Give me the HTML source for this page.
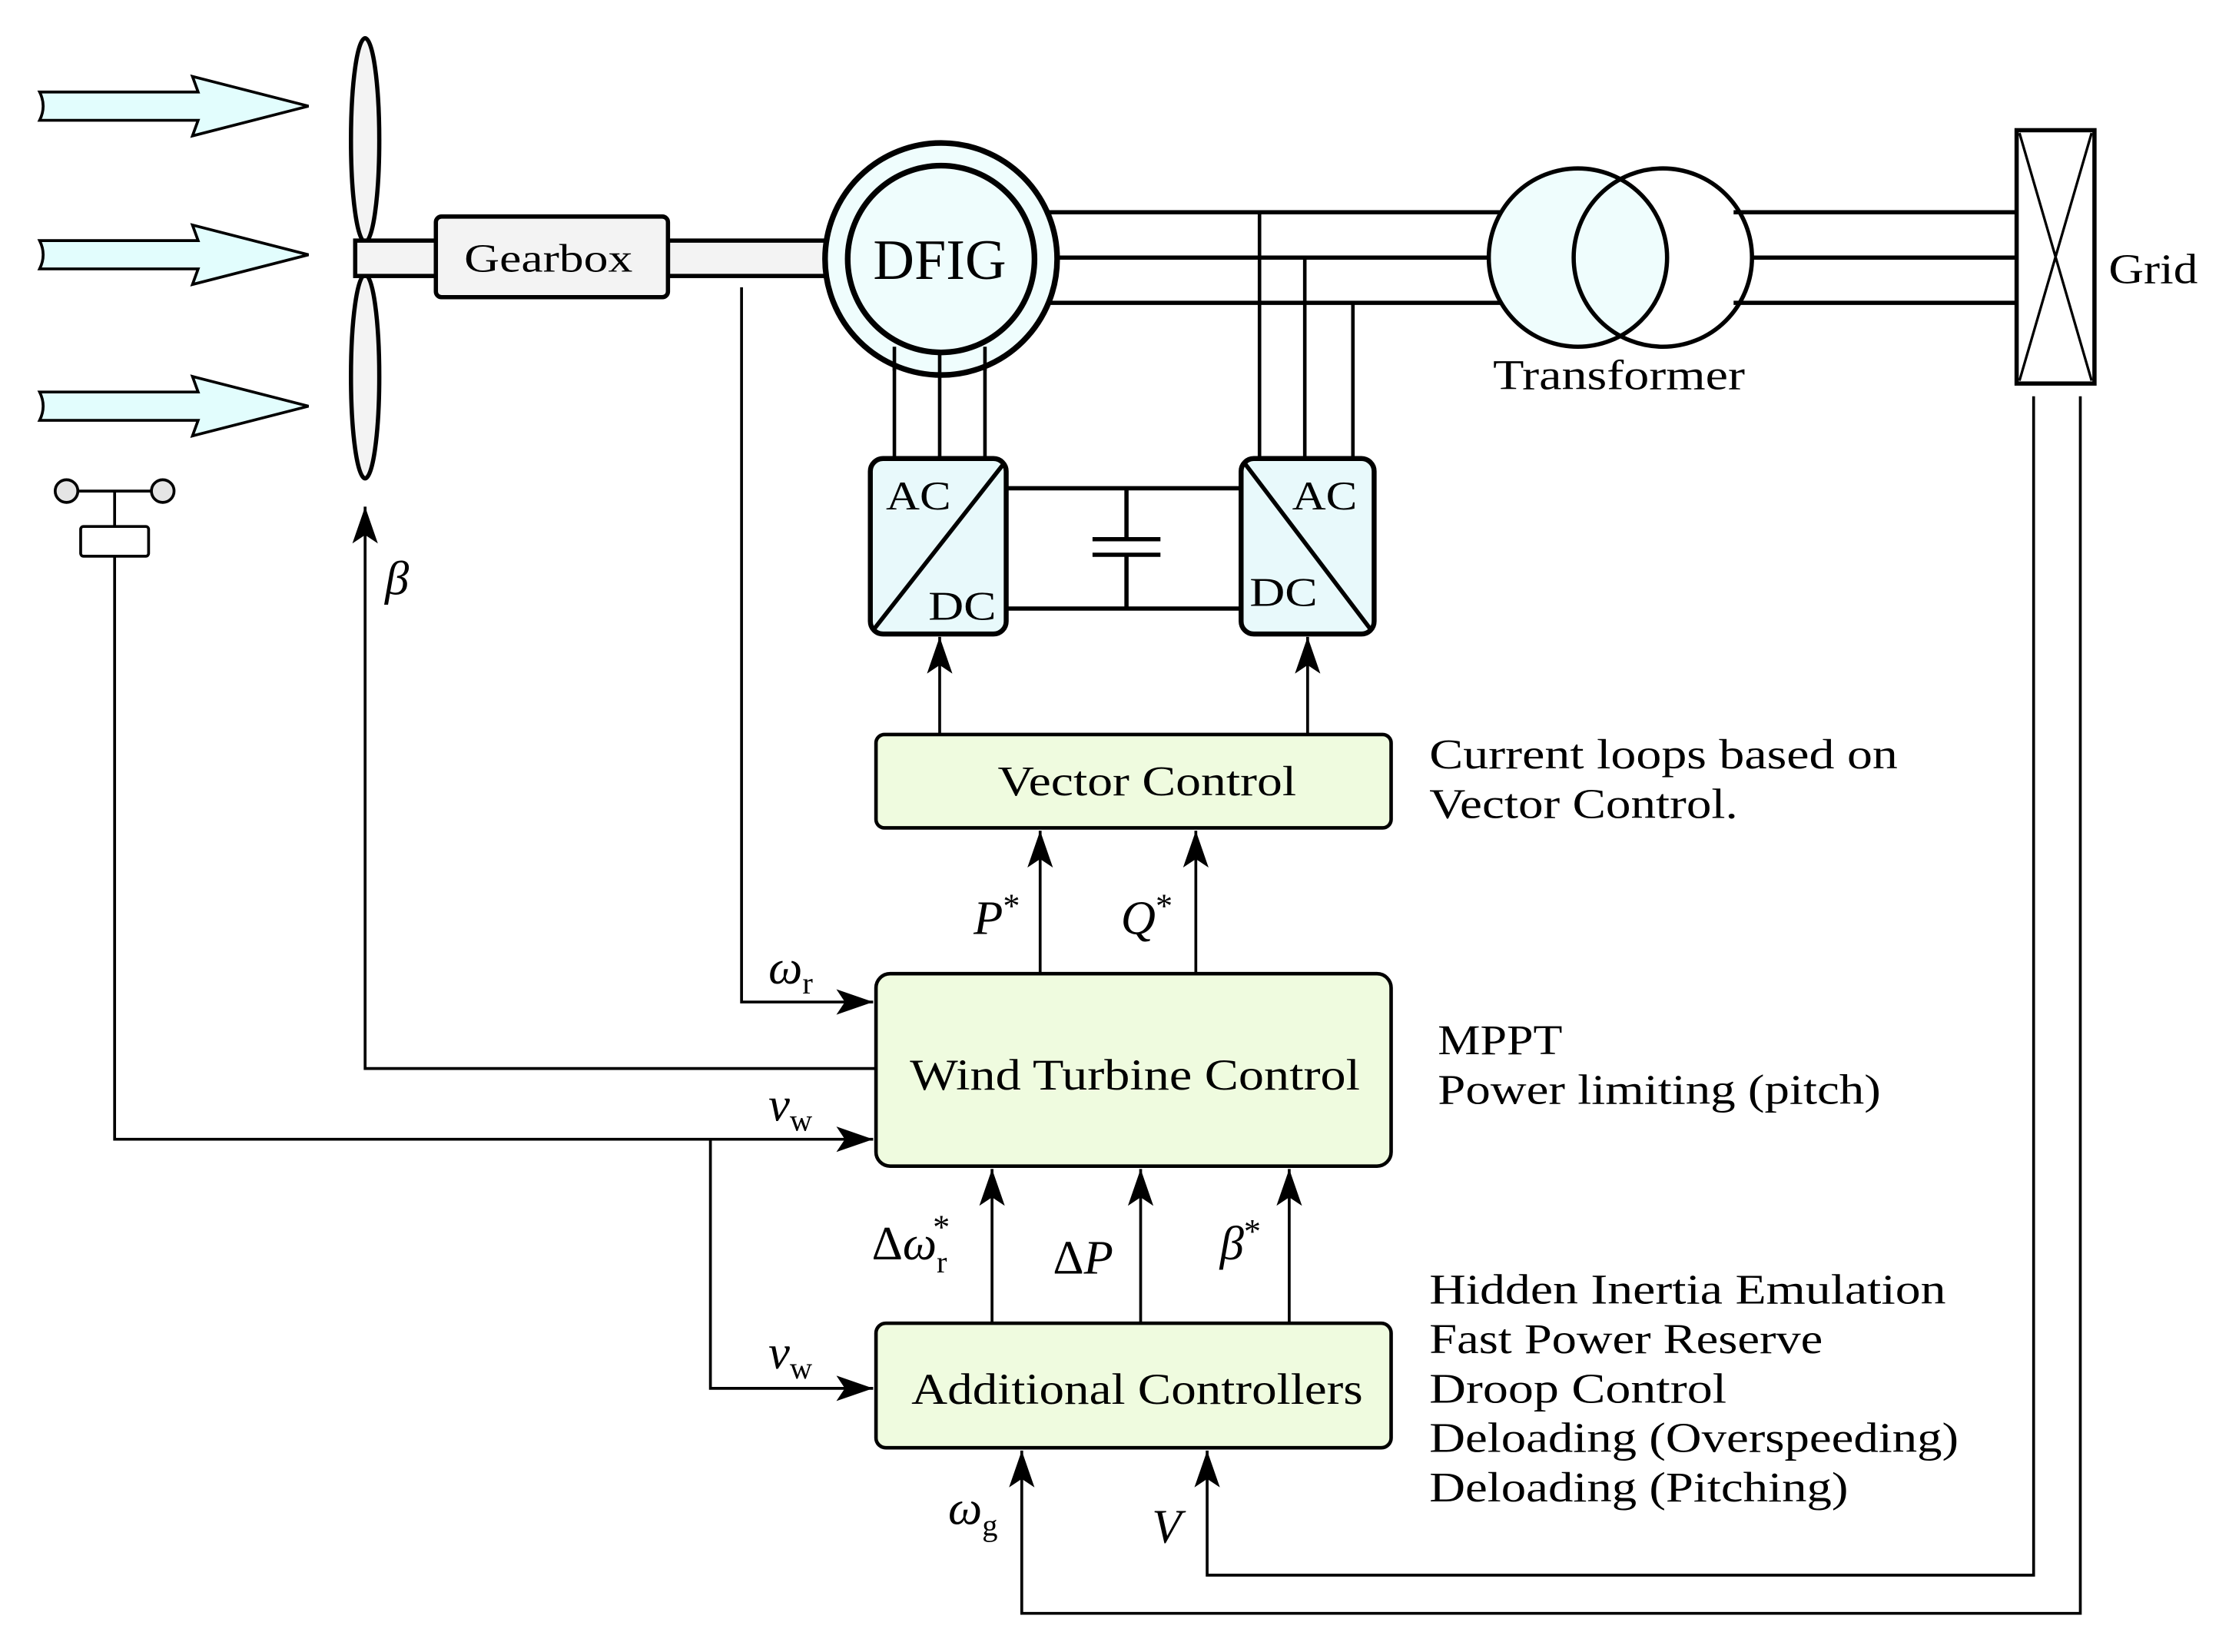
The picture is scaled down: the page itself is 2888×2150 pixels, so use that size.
<!DOCTYPE html>
<html><head><meta charset="utf-8"><style>
html,body{margin:0;padding:0;background:#fff;}
svg{display:block;}
text{font-family:"Liberation Serif",serif;fill:#000;}
</style></head><body>
<svg width="2888" height="2150" viewBox="0 0 1568 1167.3" xmlns="http://www.w3.org/2000/svg">
<defs>
<marker id="ah" viewBox="0 0 26 18" refX="26" refY="9" markerWidth="26" markerHeight="18" markerUnits="userSpaceOnUse" orient="auto">
<path d="M0 0 L26 9 L0 18 L6 9 Z" fill="#000"/>
</marker>
</defs>
<g stroke="#000" stroke-width="2" fill="#e2fdfd">
<path d="M28 65 L140 65 L136 54 L218 75 L136 96 L140 85 L28 85 Q33 75 28 65 Z"/>
<path d="M28 170 L140 170 L136 159 L218 180 L136 201 L140 190 L28 190 Q33 180 28 170 Z"/>
<path d="M28 277 L140 277 L136 266 L218 287 L136 308 L140 297 L28 297 Q33 287 28 277 Z"/>
</g>
<g stroke="#000" stroke-width="3" fill="#f3f3f3">
<ellipse cx="258" cy="99" rx="10" ry="72"/>
<ellipse cx="258" cy="266" rx="10" ry="72"/>
<rect x="251" y="170" width="57" height="25"/>
<rect x="472" y="170" width="130" height="25"/>
<rect x="308" y="153" width="164" height="57" rx="4"/>
</g>
<text x="328" y="192" font-size="28" textLength="119" lengthAdjust="spacingAndGlyphs">Gearbox</text>
<g stroke="#000" stroke-width="3" fill="none">
<line x1="740" y1="150" x2="1060" y2="150"/>
<line x1="748" y1="182" x2="1052" y2="182"/>
<line x1="740" y1="214" x2="1060" y2="214"/>
<line x1="1225" y1="150" x2="1425" y2="150"/>
<line x1="1237" y1="182" x2="1425" y2="182"/>
<line x1="1225" y1="214" x2="1425" y2="214"/>
</g>
<g stroke="#000" stroke-width="2.5" fill="none">
<line x1="890" y1="150" x2="890" y2="324"/>
<line x1="922" y1="182" x2="922" y2="324"/>
<line x1="956" y1="214" x2="956" y2="324"/>
<line x1="632" y1="240" x2="632" y2="324"/>
<line x1="664" y1="250" x2="664" y2="324"/>
<line x1="696" y1="240" x2="696" y2="324"/>
</g>
<circle cx="665" cy="183" r="82" fill="#effdfd" stroke="#000" stroke-width="4"/>
<circle cx="665" cy="183" r="66" fill="#effdfd" stroke="#000" stroke-width="4"/>
<line x1="632" y1="245" x2="632" y2="262" stroke="#000" stroke-width="2.5"/>
<line x1="664" y1="249" x2="664" y2="265" stroke="#000" stroke-width="2.5"/>
<line x1="696" y1="245" x2="696" y2="262" stroke="#000" stroke-width="2.5"/>
<text x="617" y="197" font-size="40" textLength="94" lengthAdjust="spacingAndGlyphs">DFIG</text>
<circle cx="1115" cy="182" r="63" fill="#effdfd" stroke="#000" stroke-width="3"/>
<circle cx="1175" cy="182" r="63" fill="none" stroke="#000" stroke-width="3"/>
<text x="1055" y="275" font-size="30" textLength="178" lengthAdjust="spacingAndGlyphs">Transformer</text>
<rect x="1425" y="92" width="55" height="179" fill="#fff" stroke="#000" stroke-width="3"/>
<path d="M1427 94 L1478 269 M1478 94 L1427 269" stroke="#000" stroke-width="1.8"/>
<text x="1490" y="200" font-size="30" textLength="63" lengthAdjust="spacingAndGlyphs">Grid</text>
<g stroke="#000" stroke-width="3" fill="none">
<line x1="711" y1="345" x2="877" y2="345"/>
<line x1="711" y1="430" x2="877" y2="430"/>
<line x1="796" y1="345" x2="796" y2="381"/>
<line x1="796" y1="392" x2="796" y2="430"/>
<line x1="772" y1="381" x2="820" y2="381"/>
<line x1="772" y1="392" x2="820" y2="392"/>
</g>
<rect x="615" y="324" width="96" height="124" rx="9" fill="#e8f9fb" stroke="#000" stroke-width="3.5"/>
<line x1="709" y1="328" x2="618" y2="444" stroke="#000" stroke-width="3"/>
<text x="626" y="360" font-size="29" textLength="46" lengthAdjust="spacingAndGlyphs">AC</text>
<text x="656" y="438" font-size="29" textLength="48" lengthAdjust="spacingAndGlyphs">DC</text>
<rect x="877" y="324" width="94" height="124" rx="9" fill="#e8f9fb" stroke="#000" stroke-width="3.5"/>
<line x1="880" y1="328" x2="968" y2="444" stroke="#000" stroke-width="3"/>
<text x="913" y="360" font-size="29" textLength="46" lengthAdjust="spacingAndGlyphs">AC</text>
<text x="883" y="428" font-size="29" textLength="48" lengthAdjust="spacingAndGlyphs">DC</text>
<g fill="#effbdf" stroke="#000" stroke-width="2.5">
<rect x="619" y="519" width="364" height="66" rx="6"/>
<rect x="619" y="688" width="364" height="136" rx="10"/>
<rect x="619" y="935" width="364" height="88" rx="7"/>
</g>
<text x="705" y="562" font-size="30" textLength="211" lengthAdjust="spacingAndGlyphs">Vector Control</text>
<text x="643" y="770" font-size="31" textLength="318" lengthAdjust="spacingAndGlyphs">Wind Turbine Control</text>
<text x="644" y="992" font-size="31" textLength="319" lengthAdjust="spacingAndGlyphs">Additional Controllers</text>
<g stroke="#000" stroke-width="2" fill="none" marker-end="url(#ah)">
<line x1="664" y1="519" x2="664" y2="450"/>
<line x1="924" y1="519" x2="924" y2="450"/>
<line x1="735" y1="688" x2="735" y2="587"/>
<line x1="845" y1="688" x2="845" y2="587"/>
<polyline points="524,203 524,708 617,708"/>
<polyline points="619,755 258,755 258,358"/>
<polyline points="81,393 81,805 617,805"/>
<polyline points="502,805 502,981 617,981"/>
<line x1="701" y1="935" x2="701" y2="826"/>
<line x1="806" y1="935" x2="806" y2="826"/>
<line x1="911" y1="935" x2="911" y2="826"/>
<polyline points="1470,280 1470,1140 722,1140 722,1025"/>
<polyline points="1437,280 1437,1113 853,1113 853,1025"/>
</g>
<line x1="47" y1="347" x2="115" y2="347" stroke="#000" stroke-width="2"/>
<line x1="81" y1="347" x2="81" y2="372" stroke="#000" stroke-width="2"/>
<circle cx="47" cy="347" r="8" fill="#e5e5e5" stroke="#000" stroke-width="2"/>
<circle cx="115" cy="347" r="8" fill="#e5e5e5" stroke="#000" stroke-width="2"/>
<rect x="57" y="372" width="48" height="21" rx="2" fill="#fff" stroke="#000" stroke-width="2"/>
<g font-style="italic" font-size="34">
<text x="272" y="420">β</text>
<text x="688" y="660">P<tspan font-size="24" dy="-12" font-style="normal">*</tspan></text>
<text x="792" y="660">Q<tspan font-size="24" dy="-12" font-style="normal">*</tspan></text>
<text x="543" y="695">ω<tspan font-size="22" dy="7" font-style="normal">r</tspan></text>
<text x="543" y="792">v<tspan font-size="22" dy="7" font-style="normal">w</tspan></text>
<text x="543" y="967">v<tspan font-size="22" dy="7" font-style="normal">w</tspan></text>
<text x="616" y="890"><tspan font-style="normal">Δ</tspan>ω<tspan font-size="22" dy="9" font-style="normal">r</tspan><tspan font-size="24" dx="-10" dy="-24" font-style="normal">*</tspan></text>
<text x="744" y="900"><tspan font-style="normal">Δ</tspan>P</text>
<text x="862" y="890">β<tspan font-size="24" dy="-12" font-style="normal">*</tspan></text>
<text x="670" y="1077">ω<tspan font-size="22" dy="8" font-style="normal">g</tspan></text>
<text x="814" y="1090">V</text>
</g>
<g font-size="30" lengthAdjust="spacingAndGlyphs">
<text x="1010" y="543" textLength="331" lengthAdjust="spacingAndGlyphs">Current loops based on</text>
<text x="1010" y="578" textLength="218" lengthAdjust="spacingAndGlyphs">Vector Control.</text>
<text x="1016" y="745" textLength="88" lengthAdjust="spacingAndGlyphs">MPPT</text>
<text x="1016" y="780" textLength="313" lengthAdjust="spacingAndGlyphs">Power limiting (pitch)</text>
<text x="1010" y="921" textLength="365" lengthAdjust="spacingAndGlyphs">Hidden Inertia Emulation</text>
<text x="1010" y="956" textLength="278" lengthAdjust="spacingAndGlyphs">Fast Power Reserve</text>
<text x="1010" y="991" textLength="210" lengthAdjust="spacingAndGlyphs">Droop Control</text>
<text x="1010" y="1026" textLength="374" lengthAdjust="spacingAndGlyphs">Deloading (Overspeeding)</text>
<text x="1010" y="1061" textLength="296" lengthAdjust="spacingAndGlyphs">Deloading (Pitching)</text>
</g>
</svg>
</body></html>
